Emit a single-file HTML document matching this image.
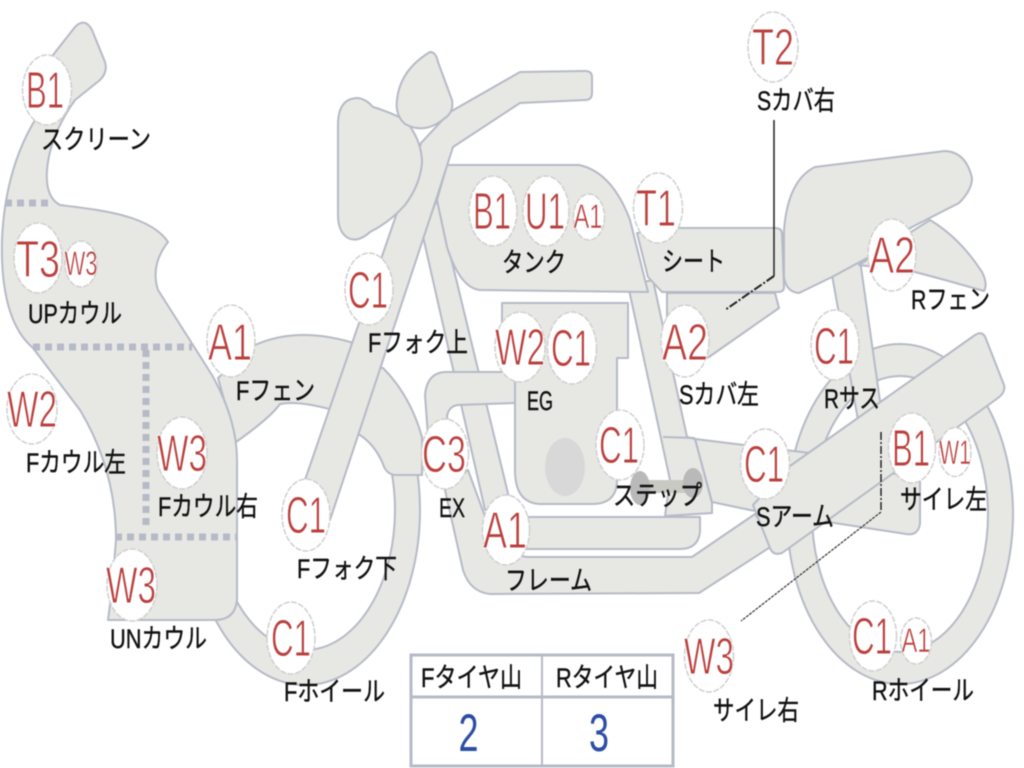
<!DOCTYPE html>
<html><head><meta charset="utf-8"><style>
html,body{margin:0;padding:0;background:#fff}
svg{display:block;filter:blur(0.45px)}
.s{fill:#e7e8e3;stroke:#b6bac7;stroke-width:2;stroke-linejoin:round}
.c{fill:#fff;stroke:#cfcfcf;stroke-width:1.5;stroke-dasharray:6 1.5}
.r{font-family:"Liberation Sans",sans-serif;font-size:52px;fill:#bb403e;text-anchor:middle;stroke:#fff;stroke-width:.9}
.m{font-family:"Liberation Sans",sans-serif;font-size:34px;fill:#bb403e;text-anchor:middle;stroke:#fff;stroke-width:.5}
.k{font-family:"Liberation Sans","Noto Sans CJK JP",sans-serif;font-size:27px;fill:#111;stroke:#111;stroke-width:.4}
.d{fill:none;stroke:#b6bac7;stroke-width:7;stroke-dasharray:7 5}
</style></head><body>
<svg width="1024" height="768" viewBox="0 0 1024 768" xmlns="http://www.w3.org/2000/svg">
<defs><clipPath id="fw"><rect x="150" y="470" width="300" height="240"/></clipPath></defs>

<!-- rear wheel -->
<path class="s" fill-rule="evenodd" d="M787,514a113,170 0 1,0 226,0a113,170 0 1,0 -226,0ZM812,514a88,138 0 1,1 176,0a88,138 0 1,1 -176,0Z"/>
<!-- front wheel -->
<path class="s" clip-path="url(#fw)" fill-rule="evenodd" d="M190,510a115,175 0 1,0 230,0a115,175 0 1,0 -230,0ZM215,510a90,140 0 1,1 180,0a90,140 0 1,1 -180,0Z"/>

<!-- down tube -->
<path class="s" d="M422,232L437,200L512,510L485,510Z"/>
<!-- lower frame 2 -->
<path class="s" d="M445,490L463,570Q470,592 490,594L699,593L775,544L755,514L692,557L530,557Q505,557 490,530L468,470Z"/>
<!-- lower frame 1 -->
<path class="s" d="M490,517L700,517L700,532Q698,549 680,549L500,549Z"/>
<!-- exhaust -->
<path class="s" d="M429,450L425,395Q427,373 445,372L515,372L515,403L458,405Q449,406 447,416L452,450Z"/>
<!-- side/rear section -->
<path class="s" d="M695,439L810,453L920,480L920,524Q918,536 906,534L750,510L712,502Z"/>
<!-- seat strut -->
<path class="s" d="M628,285L653,280L687,437L695,439L712,503L712,513L665,516L670,480Z"/>
<path d="M663,437L695,438" stroke="#b6bac7" stroke-width="2" fill="none"/>
<!-- step -->
<rect x="640" y="480" width="52" height="13" fill="#c9c9c4"/>
<ellipse cx="640" cy="488" rx="10" ry="17" fill="#b9b9b9"/>
<ellipse cx="693" cy="483" rx="10" ry="15" fill="#b9b9b9"/>
<!-- engine -->
<path class="s" d="M502,303L628,303L628,358L617,358L617,480Q617,504 592,504L540,504Q515,503 515,470L515,345L502,345Z"/>
<ellipse cx="565" cy="467" rx="20" ry="29" fill="#d8d8d8"/>
<!-- R sus -->
<path class="s" d="M832,275L860,260L882,415L858,420Z"/>
<!-- arm -->
<path class="s" d="M975,335Q983,330 986,339L1004,385Q1006,392 998,398L782,553Q773,556 770,548L753,505L790,466Z"/>
<!-- S cover left -->
<path class="s" d="M667,293L775,293L779,308L709,357L680,370L667,320Z"/>
<!-- seat -->
<path class="s" d="M679,228L775,228Q782,228 782,234L784,287Q784,292 778,292L662,292L648,277L637,233Z"/>
<!-- tank -->
<path class="s" d="M447,165L579,165Q612,172 630,220L648,292L480,290Q460,288 447,247L437,200Z"/>
<!-- R fender -->
<path class="s" d="M859,265L930,220Q960,238 982,272Q988,284 984,291L945,280L915,272Z"/>
<!-- rear cowl -->
<path class="s" d="M815,167L945,151Q966,152 972,178Q972,190 959,203L912,227L869,257L832,277L799,293Q786,292 784,277L784,230Q788,180 815,167Z"/>

<!-- F fender right -->
<path class="s" d="M365,368L383,368Q410,395 422,437L422,475L395,475Q386,474 383,464Q375,445 360,435L345,435Z"/>
<!-- F fender left -->
<path class="s" d="M218,378L255,345Q300,325 360,345L340,412Q300,400 280,404Q270,418 236,442Z"/>
<!-- cowl -->
<path class="s" d="M53,55L75,27Q85,17 92,30L105,62Q108,72 100,80L75,100Q50,135 47,170Q45,197 60,205C100,210 150,215 168,242Q150,265 158,290L212,375Q237,420 237,460L237,600Q235,620 215,620L108,620L112,590L116,540Q116,470 80,410L33,348Q0,320 2,240Q5,170 35,120Z"/>
<path class="d" d="M5,203H50"/>
<path class="d" d="M33,347H192"/>
<path class="d" d="M146,350V530"/>
<path class="d" d="M115,537H237"/>

<!-- fork + handlebar -->
<path class="s" d="M421,143L305,480L330,520L436,200L453,147L520,103L585,100Q592,100 592,93L592,77Q592,71 585,71L520,72L450,112Z"/>
<!-- headlight -->
<path class="s" d="M338,125Q338,98 358,98Q366,99 373,107Q390,112 405,120Q422,140 422,163Q420,185 405,205Q390,222 370,232Q358,243 348,238Q338,232 338,215Z"/>
<!-- meter -->
<path class="s" d="M430,52Q436,52 438,62L452,100Q454,112 445,118Q425,135 405,124Q395,115 397,100Q400,70 430,52Z"/>

<!-- leaders -->
<path d="M774,120V276" stroke="#222" stroke-width="1.5" fill="none"/>
<path d="M774,276L725,310" stroke="#222" stroke-width="2" fill="none" stroke-dasharray="9 2 2 2"/>
<path d="M881,432V512" stroke="#222" stroke-width="1.5" fill="none" stroke-dasharray="8 2 2 2"/>
<path d="M881,512L741,621" stroke="#333" stroke-width="1.2" fill="none" stroke-dasharray="3 1"/>

<!-- circles -->
<ellipse class="c" cx="47" cy="90" rx="24.5" ry="35"/>
<ellipse class="c" cx="38" cy="258" rx="24" ry="35"/>
<ellipse class="c" cx="81" cy="264" rx="16" ry="23"/>
<ellipse class="c" cx="369" cy="289" rx="24" ry="36"/>
<ellipse class="c" cx="231" cy="341" rx="24" ry="36"/>
<ellipse class="c" cx="493" cy="211" rx="24" ry="35"/>
<ellipse class="c" cx="546" cy="211" rx="23" ry="35"/>
<ellipse class="c" cx="589" cy="217" rx="15.5" ry="23"/>
<ellipse class="c" cx="658" cy="208" rx="24.5" ry="35"/>
<ellipse class="c" cx="773" cy="47" rx="25" ry="35"/>
<ellipse class="c" cx="892" cy="255" rx="24" ry="36"/>
<ellipse class="c" cx="835" cy="345" rx="24" ry="35"/>
<ellipse class="c" cx="685" cy="341" rx="24" ry="36"/>
<ellipse class="c" cx="32" cy="409" rx="25" ry="35"/>
<ellipse class="c" cx="182" cy="453" rx="25" ry="36"/>
<ellipse class="c" cx="306" cy="515" rx="24" ry="36"/>
<ellipse class="c" cx="132" cy="585" rx="25" ry="36"/>
<ellipse class="c" cx="291" cy="638" rx="24" ry="36"/>
<ellipse class="c" cx="445" cy="454" rx="23.5" ry="35"/>
<ellipse class="c" cx="520" cy="347" rx="25" ry="35"/>
<ellipse class="c" cx="572" cy="348" rx="24.5" ry="36"/>
<ellipse class="c" cx="620" cy="445" rx="24" ry="35"/>
<ellipse class="c" cx="506" cy="530" rx="23.5" ry="35"/>
<ellipse class="c" cx="765" cy="464" rx="24.5" ry="35"/>
<ellipse class="c" cx="912" cy="448" rx="23.5" ry="35"/>
<ellipse class="c" cx="955" cy="452" rx="16" ry="24.5"/>
<ellipse class="c" cx="873" cy="636" rx="23.5" ry="35"/>
<ellipse class="c" cx="916" cy="641" rx="15.5" ry="23"/>
<ellipse class="c" cx="709" cy="656" rx="24.5" ry="36"/>

<!-- red labels -->
<text class="r" x="45" y="108" textLength="38" lengthAdjust="spacingAndGlyphs">B1</text>
<text class="r" x="38" y="277" textLength="44" lengthAdjust="spacingAndGlyphs">T3</text>
<text class="m" x="81" y="275" textLength="33" lengthAdjust="spacingAndGlyphs">W3</text>
<text class="r" x="368" y="308" textLength="40" lengthAdjust="spacingAndGlyphs">C1</text>
<text class="r" x="230" y="360" textLength="44" lengthAdjust="spacingAndGlyphs">A1</text>
<text class="r" x="492" y="229" textLength="38" lengthAdjust="spacingAndGlyphs">B1</text>
<text class="r" x="545" y="229" textLength="40" lengthAdjust="spacingAndGlyphs">U1</text>
<text class="m" x="588" y="228" textLength="29" lengthAdjust="spacingAndGlyphs">A1</text>
<text class="r" x="656" y="226" textLength="40" lengthAdjust="spacingAndGlyphs">T1</text>
<text class="r" x="773" y="65" textLength="42" lengthAdjust="spacingAndGlyphs">T2</text>
<text class="r" x="892" y="273" textLength="46" lengthAdjust="spacingAndGlyphs">A2</text>
<text class="r" x="834" y="364" textLength="40" lengthAdjust="spacingAndGlyphs">C1</text>
<text class="r" x="685" y="360" textLength="46" lengthAdjust="spacingAndGlyphs">A2</text>
<text class="r" x="32" y="427" textLength="50" lengthAdjust="spacingAndGlyphs">W2</text>
<text class="r" x="182" y="471" textLength="50" lengthAdjust="spacingAndGlyphs">W3</text>
<text class="r" x="306" y="533" textLength="40" lengthAdjust="spacingAndGlyphs">C1</text>
<text class="r" x="131" y="603" textLength="50" lengthAdjust="spacingAndGlyphs">W3</text>
<text class="r" x="291" y="656" textLength="40" lengthAdjust="spacingAndGlyphs">C1</text>
<text class="r" x="444" y="472" textLength="44" lengthAdjust="spacingAndGlyphs">C3</text>
<text class="r" x="520" y="365" textLength="50" lengthAdjust="spacingAndGlyphs">W2</text>
<text class="r" x="571" y="366" textLength="40" lengthAdjust="spacingAndGlyphs">C1</text>
<text class="r" x="619" y="463" textLength="40" lengthAdjust="spacingAndGlyphs">C1</text>
<text class="r" x="505" y="548" textLength="44" lengthAdjust="spacingAndGlyphs">A1</text>
<text class="r" x="764" y="482" textLength="40" lengthAdjust="spacingAndGlyphs">C1</text>
<text class="r" x="911" y="466" textLength="38" lengthAdjust="spacingAndGlyphs">B1</text>
<text class="m" x="955" y="464" textLength="32" lengthAdjust="spacingAndGlyphs">W1</text>
<text class="r" x="872" y="654" textLength="40" lengthAdjust="spacingAndGlyphs">C1</text>
<text class="m" x="916" y="652" textLength="29" lengthAdjust="spacingAndGlyphs">A1</text>
<text class="r" x="709" y="674" textLength="50" lengthAdjust="spacingAndGlyphs">W3</text>

<!-- black labels -->
<text class="k" x="41" y="149" textLength="110" lengthAdjust="spacingAndGlyphs">スクリーン</text>
<text class="k" x="28" y="323" textLength="94" lengthAdjust="spacingAndGlyphs">UPカウル</text>
<text class="k" x="236" y="400" textLength="79" lengthAdjust="spacingAndGlyphs">Fフェン</text>
<text class="k" x="368" y="352" textLength="100" lengthAdjust="spacingAndGlyphs">Fフォク上</text>
<text class="k" x="502" y="272" textLength="64" lengthAdjust="spacingAndGlyphs">タンク</text>
<text class="k" x="662" y="271" textLength="63" lengthAdjust="spacingAndGlyphs">シート</text>
<text class="k" x="757" y="110" textLength="78" lengthAdjust="spacingAndGlyphs">Sカバ右</text>
<text class="k" x="911" y="309" textLength="79" lengthAdjust="spacingAndGlyphs">Rフェン</text>
<text class="k" x="679" y="404" textLength="80" lengthAdjust="spacingAndGlyphs">Sカバ左</text>
<text class="k" x="527" y="410" textLength="26" lengthAdjust="spacingAndGlyphs">EG</text>
<text class="k" x="824" y="408" textLength="56" lengthAdjust="spacingAndGlyphs">Rサス</text>
<text class="k" x="439" y="517" textLength="26" lengthAdjust="spacingAndGlyphs">EX</text>
<text class="k" x="26" y="472" textLength="100" lengthAdjust="spacingAndGlyphs">Fカウル左</text>
<text class="k" x="158" y="516" textLength="100" lengthAdjust="spacingAndGlyphs">Fカウル右</text>
<text class="k" x="297" y="578" textLength="100" lengthAdjust="spacingAndGlyphs">Fフォク下</text>
<text class="k" x="110" y="648" textLength="97" lengthAdjust="spacingAndGlyphs">UNカウル</text>
<text class="k" x="284" y="701" textLength="101" lengthAdjust="spacingAndGlyphs">Fホイール</text>
<text class="k" x="613" y="505" textLength="89" lengthAdjust="spacingAndGlyphs">ステップ</text>
<text class="k" x="756" y="526" textLength="78" lengthAdjust="spacingAndGlyphs">Sアーム</text>
<text class="k" x="900" y="509" textLength="87" lengthAdjust="spacingAndGlyphs">サイレ左</text>
<text class="k" x="505" y="590" textLength="87" lengthAdjust="spacingAndGlyphs">フレーム</text>
<text class="k" x="872" y="700" textLength="102" lengthAdjust="spacingAndGlyphs">Rホイール</text>
<text class="k" x="713" y="720" textLength="86" lengthAdjust="spacingAndGlyphs">サイレ右</text>

<!-- table -->
<rect x="411" y="655" width="262" height="111" fill="#fff" stroke="#b6bac7" stroke-width="3"/>
<path d="M411,697H673" stroke="#b6bac7" stroke-width="3"/>
<path d="M542,655V766" stroke="#b6bac7" stroke-width="2"/>
<text class="k" x="421" y="687" textLength="101" lengthAdjust="spacingAndGlyphs">Fタイヤ山</text>
<text class="k" x="556" y="687" textLength="102" lengthAdjust="spacingAndGlyphs">Rタイヤ山</text>
<text x="468.5" y="751" font-family="'Liberation Sans',sans-serif" font-size="53" fill="#2b4ea3" text-anchor="middle" textLength="20" lengthAdjust="spacingAndGlyphs">2</text>
<text x="599" y="751" font-family="'Liberation Sans',sans-serif" font-size="53" fill="#2b4ea3" text-anchor="middle" textLength="20" lengthAdjust="spacingAndGlyphs">3</text>
</svg>
</body></html>
